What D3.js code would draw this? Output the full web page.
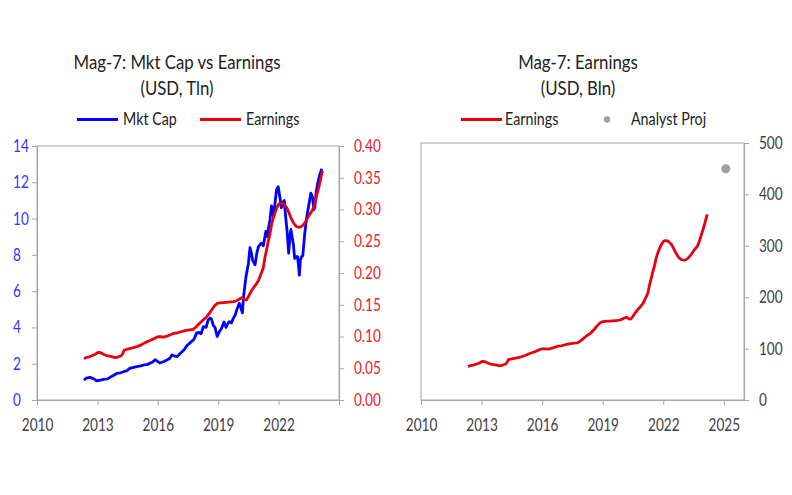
<!DOCTYPE html>
<html><head><meta charset="utf-8">
<script src="https://cdn.jsdelivr.net/npm/d3@7"></script>
<style>body{margin:0;background:#fff}</style>
</head><body>
<svg id="chart" width="792" height="495"></svg>
<script>
// ---- Data ----
const mktCapYears = [2012.33,2012.45,2012.63,2012.8,2012.96,2013.15,2013.3,2013.5,2013.63,2013.8,2013.96,2014.15,2014.3,2014.45,2014.6,2014.8,2014.96,2015.15,2015.3,2015.45,2015.6,2015.75,2015.87,2016.0,2016.1,2016.3,2016.45,2016.6,2016.7,2016.85,2016.95,2017.1,2017.3,2017.45,2017.6,2017.8,2017.93,2018.05,2018.15,2018.26,2018.4,2018.5,2018.6,2018.67,2018.76,2018.84,2018.95,2019.05,2019.17,2019.29,2019.39,2019.47,2019.55,2019.65,2019.75,2019.85,2019.92,2020.05,2020.12,2020.2,2020.27,2020.38,2020.5,2020.58,2020.65,2020.71,2020.83,2020.92,2021.0,2021.1,2021.16,2021.24,2021.32,2021.37,2021.44,2021.5,2021.57,2021.65,2021.7,2021.76,2021.82,2021.9,2021.98,2022.06,2022.14,2022.22,2022.28,2022.36,2022.43,2022.5,2022.56,2022.61,2022.67,2022.73,2022.8,2022.87,2022.94,2023.0,2023.03,2023.08,2023.14,2023.2,2023.3,2023.4,2023.5,2023.6,2023.68,2023.75,2023.8,2023.86,2023.95,2024.05,2024.15];
const mktCapValues = [1.10,1.20,1.25,1.18,1.06,1.10,1.14,1.16,1.25,1.35,1.47,1.50,1.56,1.60,1.74,1.80,1.84,1.88,1.93,1.95,2.02,2.10,2.22,2.12,2.04,2.12,2.20,2.30,2.48,2.42,2.39,2.55,2.76,3.00,3.15,3.35,3.70,3.72,3.65,4.04,4.00,4.41,4.52,4.45,4.10,4.00,3.50,3.75,3.95,4.30,4.00,4.20,4.32,4.25,4.50,4.70,4.96,5.33,5.10,4.80,5.80,6.80,7.53,8.40,8.10,7.70,7.45,8.10,8.45,8.60,8.64,8.50,9.00,9.30,9.00,9.50,9.92,10.70,10.40,10.10,10.84,11.60,11.75,11.20,10.60,10.90,11.00,10.00,9.20,8.10,9.00,9.40,9.00,8.60,7.80,7.90,7.90,7.30,6.88,7.70,7.90,7.95,9.20,10.10,10.75,11.40,11.20,10.50,10.60,11.40,12.00,12.45,12.75];

const earnYears = [2012.33,2012.45,2012.6,2012.75,2012.9,2013.0,2013.1,2013.2,2013.3,2013.45,2013.6,2013.75,2013.9,2014.05,2014.2,2014.3,2014.33,2014.5,2014.75,2014.96,2015.16,2015.35,2015.5,2015.65,2015.82,2016.0,2016.15,2016.3,2016.45,2016.57,2016.8,2016.95,2017.15,2017.4,2017.6,2017.75,2017.9,2018.05,2018.25,2018.4,2018.55,2018.7,2018.84,2018.95,2019.1,2019.3,2019.5,2019.75,2019.9,2020.05,2020.17,2020.3,2020.4,2020.5,2020.62,2020.74,2020.88,2021.0,2021.12,2021.24,2021.32,2021.4,2021.48,2021.57,2021.65,2021.74,2021.83,2021.93,2022.0,2022.07,2022.15,2022.23,2022.32,2022.4,2022.5,2022.6,2022.7,2022.8,2022.9,2023.0,2023.1,2023.2,2023.3,2023.4,2023.5,2023.6,2023.7,2023.78,2023.86,2023.94,2024.02,2024.1,2024.18];
const earnValues = [65,67,68,70,72,74.5,75,74,72,70,69,68,66.6,68,70,76,78.6,80,82,84,86.5,90,92,94,97,99.6,99.6,99,100.5,102,105,105.5,107.5,109.5,110.5,111,115,120,126,130,136,143,149,152,153,153.5,154,154.8,156,159,161,158,157.5,163,170,176,182,188,198,208,224,236,249,262,276,287,296,304,308,310,310,309,306,303,296,288,281,276,273,272,272.5,275,279,284,290,295,300,308,318,328,338,350,361]; // USD Bln

const projYears = [2025.1];
const projValues = [450];

const leftYTicks = [0,2,4,6,8,10,12,14];
const leftY2Ticks = [0,50,100,150,200,250,300,350,400];   // Bln, shown as Tln
const rightYTicks = [0,100,200,300,400,500];
const leftXTicks = [2010,2013,2016,2019,2022,2025];
const leftXLabels = ["2010","2013","2016","2019","2022",""];
const rightXTicks = [2010,2013,2016,2019,2022,2025];

// ---- Styles ----
const FONT = "Lato, 'Open Sans', sans-serif";
const BLUE = "#0000ff", RED = "#e60012", GRAY = "#a6a6a6";
const BLUE_TXT = "#3333ff", RED_TXT = "#e8202a", TXT = "#404040";

const svg = d3.select("#chart").style("font-family", FONT);

function squish(sel, sx) {
  sel.each(function() {
    const t = d3.select(this);
    const x = +t.attr("x") || 0;
    t.attr("transform", `translate(${x},0) scale(${sx},1) translate(${-x},0)`);
  });
}
function label(x, y, txt, size, anchor, fill, sx) {
  const t = svg.append("text").attr("x", x).attr("y", y).text(txt)
    .attr("font-size", size).attr("text-anchor", anchor).attr("fill", fill);
  squish(t, sx);
  return t;
}
function styleAxis(g, color, size) {
  g.select(".domain").attr("stroke", GRAY);
  g.selectAll(".tick line").attr("stroke", GRAY);
  g.selectAll(".tick text").attr("fill", color).attr("font-size", size)
    .attr("font-family", FONT);
}

// ================= LEFT CHART =================
const xL = d3.scaleLinear().domain([2010, 2025]).range([37, 339]);
const yL = d3.scaleLinear().domain([0, 14]).range([400, 146]);
const yL2 = d3.scaleLinear().domain([0, 400]).range([400, 146]);

svg.append("rect").attr("x", xL(2010)).attr("y", yL(14))
  .attr("width", xL(2025) - xL(2010)).attr("height", yL(0) - yL(14))
  .attr("fill", "none").attr("stroke", GRAY).attr("stroke-width", 1);

let g = svg.append("g").attr("transform", `translate(0,${yL(0)})`)
  .call(d3.axisBottom(xL).tickValues(leftXTicks).tickSizeInner(5).tickSizeOuter(0)
    .tickFormat((d, i) => leftXLabels[i]));
styleAxis(g, TXT, 17);
g.selectAll(".tick text").attr("y", 19);
squish(g.selectAll(".tick text"), 0.8);

g = svg.append("g").attr("transform", `translate(${xL(2010)},0)`)
  .call(d3.axisLeft(yL).tickValues(leftYTicks).tickSizeInner(5).tickSizeOuter(0)
    .tickFormat(d3.format("d")));
styleAxis(g, BLUE_TXT, 17);
g.selectAll(".tick text").attr("x", 13 - xL(2010)).attr("text-anchor", "start");
squish(g.selectAll(".tick text"), 0.8);

g = svg.append("g").attr("transform", `translate(${xL(2025)},0)`)
  .call(d3.axisRight(yL2).tickValues(leftY2Ticks).tickSizeInner(5).tickSizeOuter(0)
    .tickFormat(d => (d / 1000).toFixed(2)));
styleAxis(g, RED_TXT, 17);
g.selectAll(".tick text").attr("x", 15);
squish(g.selectAll(".tick text"), 0.8);

const lineMkt = d3.line().x((d, i) => xL(mktCapYears[i])).y(d => yL(d));
const lineEarnL = d3.line().x((d, i) => xL(earnYears[i])).y(d => yL2(d));

svg.append("path").datum(mktCapValues).attr("d", lineMkt)
  .attr("fill", "none").attr("stroke", BLUE).attr("stroke-width", 2.8).attr("stroke-linejoin", "round");
svg.append("path").datum(earnValues).attr("d", lineEarnL)
  .attr("fill", "none").attr("stroke", RED).attr("stroke-width", 2.8).attr("stroke-linejoin", "round");

// Titles & legend (left)
label(177, 69, "Mag-7: Mkt Cap vs Earnings", 20, "middle", "#222", 0.84);
label(177, 95, "(USD, Tln)", 20, "middle", "#222", 0.84);
svg.append("line").attr("x1", 77).attr("x2", 118).attr("y1", 119.5).attr("y2", 119.5)
  .attr("stroke", BLUE).attr("stroke-width", 2.8);
label(123, 125, "Mkt Cap", 17, "start", "#222", 0.84);
svg.append("line").attr("x1", 200).attr("x2", 241).attr("y1", 119.5).attr("y2", 119.5)
  .attr("stroke", RED).attr("stroke-width", 2.8);
label(246, 125, "Earnings", 17, "start", "#222", 0.84);

// ================= RIGHT CHART =================
const xR = d3.scaleLinear().domain([2010, 2026]).range([421, 744]);
const yR = d3.scaleLinear().domain([0, 500]).range([400, 143]);

svg.append("rect").attr("x", xR(2010)).attr("y", yR(500))
  .attr("width", xR(2026) - xR(2010)).attr("height", yR(0) - yR(500))
  .attr("fill", "none").attr("stroke", GRAY).attr("stroke-width", 1);

g = svg.append("g").attr("transform", `translate(0,${yR(0)})`)
  .call(d3.axisBottom(xR).tickValues(rightXTicks).tickSizeInner(5).tickSizeOuter(0)
    .tickFormat(d3.format("d")));
styleAxis(g, TXT, 17);
g.selectAll(".tick text").attr("y", 19);
squish(g.selectAll(".tick text"), 0.8);

g = svg.append("g").attr("transform", `translate(${xR(2026)},0)`)
  .call(d3.axisRight(yR).tickValues(rightYTicks).tickSizeInner(5).tickSizeOuter(0)
    .tickFormat(d3.format("d")));
styleAxis(g, TXT, 17);
g.selectAll(".tick text").attr("x", 15);
squish(g.selectAll(".tick text"), 0.8);

const lineEarnR = d3.line().x((d, i) => xR(earnYears[i])).y(d => yR(d));
svg.append("path").datum(earnValues).attr("d", lineEarnR)
  .attr("fill", "none").attr("stroke", RED).attr("stroke-width", 2.8).attr("stroke-linejoin", "round");

svg.selectAll(".proj").data(projValues).enter().append("circle")
  .attr("cx", (d, i) => xR(projYears[i])).attr("cy", d => yR(d)).attr("r", 4.5)
  .attr("fill", "#a0a0a0");

label(578, 69, "Mag-7: Earnings", 20, "middle", "#222", 0.84);
label(578, 95, "(USD, Bln)", 20, "middle", "#222", 0.84);
svg.append("line").attr("x1", 461).attr("x2", 502).attr("y1", 119.5).attr("y2", 119.5)
  .attr("stroke", RED).attr("stroke-width", 2.8);
label(505, 125, "Earnings", 17, "start", "#222", 0.84);
svg.append("circle").attr("cx", 607).attr("cy", 119.5).attr("r", 3.2).attr("fill", "#a0a0a0");
label(631, 125, "Analyst Proj", 17, "start", "#222", 0.84);
</script>
</body></html>
